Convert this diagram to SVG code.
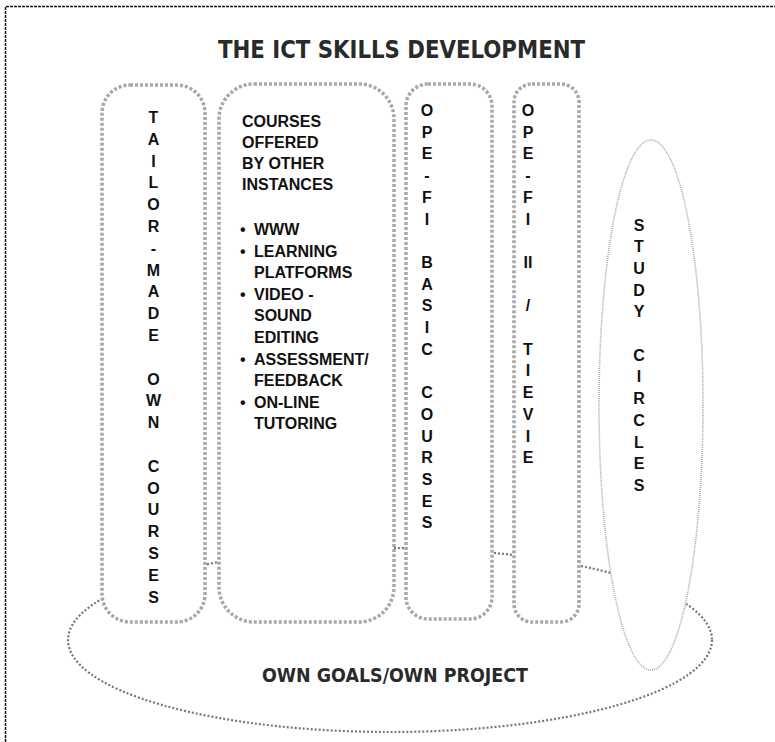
<svg xmlns="http://www.w3.org/2000/svg" width="775" height="742" viewBox="0 0 775 742">
<style>
.box{fill:#fff;stroke:#a8a8a8;stroke-width:3.5;stroke-dasharray:3 2}
.big{fill:#fff;stroke:#777;stroke-width:2.2;stroke-dasharray:2 2}
.circ{fill:#fff;stroke:#aaa;stroke-width:1.6;stroke-dasharray:1 1}
.v{font-family:"Liberation Sans",Arial,sans-serif;font-weight:bold;font-size:16px;fill:#111;text-anchor:middle}
.t{font-family:"Liberation Sans",Arial,sans-serif;font-weight:bold;font-size:16px;fill:#111}
.h{font-family:"DejaVu Sans",sans-serif;font-weight:bold;fill:#2a2a2a}
</style>
<rect x="0" y="0" width="775" height="742" fill="#fff"/>
<path d="M5.5 742 V6.5 H775" fill="none" stroke="#111" stroke-width="1.5" stroke-dasharray="3 1"/>
<g id="title"><text class="h" x="218" y="58" font-size="24" textLength="367" lengthAdjust="spacingAndGlyphs">THE ICT SKILLS DEVELOPMENT</text></g>
<g id="own-goals">
<ellipse class="big" cx="390" cy="640" rx="322" ry="92"/>
<text class="h" x="262" y="682" font-size="19" textLength="266" lengthAdjust="spacingAndGlyphs">OWN GOALS/OWN PROJECT</text>
</g>
<g id="tailor-made">
<rect class="box" x="102" y="85" width="103" height="537" rx="28"/>
<text class="v"><tspan x="153.5" y="123">T</tspan><tspan x="153.5" y="144.8">A</tspan><tspan x="153.5" y="166.6">I</tspan><tspan x="153.5" y="188.4">L</tspan><tspan x="153.5" y="210.2">O</tspan><tspan x="153.5" y="232">R</tspan><tspan x="153.5" y="253.8">-</tspan><tspan x="153.5" y="275.6">M</tspan><tspan x="153.5" y="297.4">A</tspan><tspan x="153.5" y="319.2">D</tspan><tspan x="153.5" y="341">E</tspan><tspan x="153.5" y="384.6">O</tspan><tspan x="153.5" y="406.4">W</tspan><tspan x="153.5" y="428.2">N</tspan><tspan x="153.5" y="471.8">C</tspan><tspan x="153.5" y="493.6">O</tspan><tspan x="153.5" y="515.4">U</tspan><tspan x="153.5" y="537.2">R</tspan><tspan x="153.5" y="559">S</tspan><tspan x="153.5" y="580.8">E</tspan><tspan x="153.5" y="602.6">S</tspan></text>
</g>
<g id="other-instances">
<rect class="box" x="219" y="84" width="175" height="538" rx="35"/>
<text class="t"><tspan x="242" y="127">COURSES</tspan><tspan x="242" y="148">OFFERED</tspan><tspan x="242" y="169">BY OTHER</tspan><tspan x="242" y="190">INSTANCES</tspan></text>
<text class="t"><tspan x="240" y="235">•</tspan><tspan x="254" y="235">WWW</tspan><tspan x="240" y="256.6">•</tspan><tspan x="254" y="256.6">LEARNING</tspan><tspan x="254" y="278.2">PLATFORMS</tspan><tspan x="240" y="299.8">•</tspan><tspan x="254" y="299.8">VIDEO -</tspan><tspan x="254" y="321.4">SOUND</tspan><tspan x="254" y="343">EDITING</tspan><tspan x="240" y="364.6">•</tspan><tspan x="254" y="364.6">ASSESSMENT/</tspan><tspan x="254" y="386.2">FEEDBACK</tspan><tspan x="240" y="407.8">•</tspan><tspan x="254" y="407.8">ON-LINE</tspan><tspan x="254" y="429.4">TUTORING</tspan></text>
</g>
<g id="opefi-basic">
<rect class="box" x="406" y="84" width="86" height="535" rx="22"/>
<text class="v"><tspan x="427" y="116">O</tspan><tspan x="427" y="137.7">P</tspan><tspan x="427" y="159.4">E</tspan><tspan x="427" y="181.1">-</tspan><tspan x="427" y="202.8">F</tspan><tspan x="427" y="224.5">I</tspan><tspan x="427" y="267.9">B</tspan><tspan x="427" y="289.6">A</tspan><tspan x="427" y="311.3">S</tspan><tspan x="427" y="333">I</tspan><tspan x="427" y="354.7">C</tspan><tspan x="427" y="398.1">C</tspan><tspan x="427" y="419.8">O</tspan><tspan x="427" y="441.5">U</tspan><tspan x="427" y="463.2">R</tspan><tspan x="427" y="484.9">S</tspan><tspan x="427" y="506.6">E</tspan><tspan x="427" y="528.3">S</tspan></text>
</g>
<g id="opefi-tievie">
<rect class="box" x="514" y="84" width="65" height="538" rx="18"/>
<text class="v"><tspan x="528" y="116">O</tspan><tspan x="528" y="137.7">P</tspan><tspan x="528" y="159.4">E</tspan><tspan x="528" y="181.1">-</tspan><tspan x="528" y="202.8">F</tspan><tspan x="528" y="224.5">I</tspan><tspan x="528" y="267.9">II</tspan><tspan x="528" y="311.3">/</tspan><tspan x="528" y="354.7">T</tspan><tspan x="528" y="376.4">I</tspan><tspan x="528" y="398.1">E</tspan><tspan x="528" y="419.8">V</tspan><tspan x="528" y="441.5">I</tspan><tspan x="528" y="463.2">E</tspan></text>
</g>
<g id="study-circles">
<ellipse class="circ" cx="651" cy="405" rx="52" ry="265"/>
<text class="v"><tspan x="639" y="230.5">S</tspan><tspan x="639" y="252.2">T</tspan><tspan x="639" y="273.9">U</tspan><tspan x="639" y="295.6">D</tspan><tspan x="639" y="317.3">Y</tspan><tspan x="639" y="360.7">C</tspan><tspan x="639" y="382.4">I</tspan><tspan x="639" y="404.1">R</tspan><tspan x="639" y="425.8">C</tspan><tspan x="639" y="447.5">L</tspan><tspan x="639" y="469.2">E</tspan><tspan x="639" y="490.9">S</tspan></text>
</g>
<g id="connectors"></g>
</svg>
